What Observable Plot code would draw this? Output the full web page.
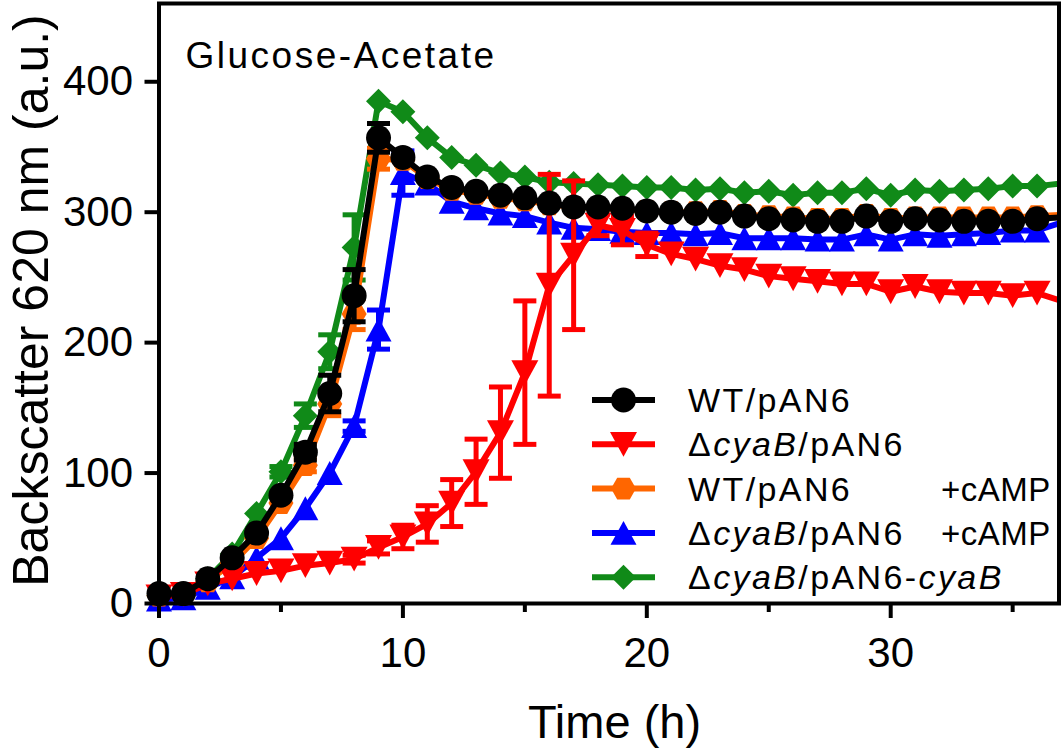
<!DOCTYPE html>
<html>
<head>
<meta charset="utf-8">
<script src="https://cdn.jsdelivr.net/npm/d3@7"></script>
<script src="https://cdn.jsdelivr.net/npm/@observablehq/plot@0.6"></script>
<style>
  body { margin: 0; background: #ffffff; }
</style>
</head>
<body>
<div id="chart"></div>
<script>
// ---- data ----
const times = [0,1,2,3,4,5,6,7,8,9,10,11,12,13,14,15,16,17,18,19,20,21,22,23,24,25,26,27,28,29,30,31,32,33,34,35,36,37];

const wtValues      = [7.6,7.6,19,35,54,83,116,161,236,357,342,327,319,316,313,311,307,304,304,303,301,300,299,300,297,295,294,293,293,297,293,295,294,293,293,293,295,296];
const wtErr         = [0,0,0,0,0,0,6,14,20,11,0,0,0,0,0,0,0,0,0,0,0,0,0,0,0,0,0,0,0,0,0,0,0,0,0,0,0,0];

const cyaBValues    = [5,7,15,19,23,25,29,31,34,43,51,61,77,101,131,177,244,267,290,286,275,268,264,259,256,251,249,247,245,245,239,243,239,238,238,236,238,232];
const cyaBErr       = [0,0,0,0,0,0,0,0,3,5,9,14,18,25,35,55,85,57,8,11,9,0,0,0,0,0,0,0,0,0,0,0,0,0,0,0,0,0];

const wtCampValues  = [6,7,17,31,50,77,106,153,222,341,340,326,317,314,311,309,306,304,303,302,301,300,300,301,298,297,296,295,295,298,295,296,296,296,296,296,297,298];
const wtCampErr     = [0,0,0,0,0,0,5,9,12,8,0,0,0,0,0,0,0,0,0,0,0,0,0,0,0,0,0,0,0,0,0,0,0,0,0,0,0,0];

const cyaBCampValues = [3,4,12,20,35,50,73,100,136,210,330,322,308,303,299,297,292,288,287,285,284,284,283,284,280,280,280,279,279,283,279,283,282,283,284,286,286,292];
const cyaBCampErr    = [0,0,0,0,0,0,0,0,4,15,17,0,0,0,0,0,0,0,0,0,0,0,0,0,0,0,0,0,0,0,0,0,0,0,0,0,0,0];

const complValues   = [6,7,19,38,69,101,144,193,273,385,377,357,342,336,330,327,323,322,321,320,319,319,317,318,315,316,313,315,315,318,313,317,316,317,318,320,320,322];
const complErr      = [0,0,0,0,0,4,9,13,25,0,0,0,0,0,0,0,0,0,0,0,0,0,0,0,0,0,0,0,0,0,0,0,0,0,0,0,0,0];

const legendLabels = ["WT/pAN6", "\u0394cyaB/pAN6", "WT/pAN6", "\u0394cyaB/pAN6", "\u0394cyaB/pAN6-cyaB"];
const legendSuffix = ["", "", "+cAMP", "+cAMP", ""];
const seriesColors = ["#000000", "#ff0000", "#ff6600", "#0000ff", "#108a18"];

const xTicksMajor = [0, 10, 20, 30];
const xTicksMinor = [5, 15, 25, 35];
const yTicks = [0, 100, 200, 300, 400];
const xDomain = [0, 36.9];
const yDomain = [0, 460];

const panelTitle = "Glucose-Acetate";
const xLabel = "Time (h)";
const yLabel = "Backscatter 620 nm (a.u.)";

// ---- symbols ----
const rad = (size) => Math.sqrt(size / Math.PI);
const symCircle = {draw(ctx, size) { const r = rad(size); ctx.moveTo(r, 0); ctx.arc(0, 0, r, 0, 2 * Math.PI); ctx.closePath(); }};
const symTriDown = {draw(ctx, size) { const r = rad(size), h = r * 0.92; ctx.moveTo(-r, -h); ctx.lineTo(r, -h); ctx.lineTo(0, h); ctx.closePath(); }};
const symTriUp = {draw(ctx, size) { const r = rad(size), h = r * 0.92; ctx.moveTo(-r, h); ctx.lineTo(r, h); ctx.lineTo(0, -h); ctx.closePath(); }};
const symHex = {draw(ctx, size) { const r = rad(size); for (let k = 0; k < 6; ++k) { const a = k * Math.PI / 3; const px = r * Math.cos(a), py = r * Math.sin(a); if (k === 0) ctx.moveTo(px, py); else ctx.lineTo(px, py); } ctx.closePath(); }};
const symDiamond = {draw(ctx, size) { const r = rad(size); ctx.moveTo(0, -r); ctx.lineTo(r, 0); ctx.lineTo(0, r); ctx.lineTo(-r, 0); ctx.closePath(); }};
const symCap = {draw(ctx, size) { const r = rad(size); ctx.moveTo(-r, 0); ctx.lineTo(r, 0); }};

const series = [
  {values: wtValues, err: wtErr, symbol: symCircle, r: 12.5},
  {values: cyaBValues, err: cyaBErr, symbol: symTriDown, r: 13.5},
  {values: wtCampValues, err: wtCampErr, symbol: symHex, r: 12.5},
  {values: cyaBCampValues, err: cyaBCampErr, symbol: symTriUp, r: 13},
  {values: complValues, err: complErr, symbol: symDiamond, r: 12.5}
].map((s, i) => ({...s, color: seriesColors[i], label: legendLabels[i], suffix: legendSuffix[i],
  rows: times.map((t, j) => ({t, v: s.values[j], e: s.err[j]}))}));

const FONT = "'Liberation Sans', Arial, Helvetica, sans-serif";

// draw order: last legend entry at the bottom, first on top
const dataMarks = [];
[...series].reverse().forEach(s => {
  const errRows = s.rows.filter(d => d.e > 0);
  dataMarks.push(
    Plot.ruleX(errRows, {x: "t", y1: d => d.v - d.e, y2: d => d.v + d.e, stroke: s.color, strokeWidth: 5}),
    Plot.dot(errRows, {x: "t", y: d => d.v + d.e, symbol: symCap, r: 11.5, fill: "none", stroke: s.color, strokeWidth: 5}),
    Plot.dot(errRows, {x: "t", y: d => d.v - d.e, symbol: symCap, r: 11.5, fill: "none", stroke: s.color, strokeWidth: 5}),
    Plot.line(s.rows, {x: "t", y: "v", stroke: s.color, strokeWidth: 6, clip: true}),
    Plot.dot(s.rows.filter(d => d.t <= xDomain[1]), {x: "t", y: "v", symbol: s.symbol, r: s.r, fill: s.color, stroke: "none"})
  );
});

const chart = Plot.plot({
  width: 1064,
  height: 751,
  marginLeft: 158.5,
  marginRight: 5.5,
  marginTop: 3,
  marginBottom: 148,
  style: {fontFamily: FONT, background: "#ffffff", color: "#000000"},
  x: {domain: xDomain, label: null},
  y: {domain: yDomain, label: null},
  marks: [
    ...dataMarks,
    Plot.frame({stroke: "#000000", strokeWidth: 4}),
    Plot.axisY({ticks: yTicks, tickSize: 14, tickPadding: 12, fontSize: 42, strokeWidth: 4, label: null}),
    Plot.axisX({ticks: xTicksMajor, tickSize: 15, tickPadding: 19, fontSize: 42, strokeWidth: 4, label: null}),
    Plot.axisX({ticks: xTicksMinor, tickSize: 9, tickFormat: () => "", strokeWidth: 4, label: null}),
    Plot.text([panelTitle], {text: d => d, frameAnchor: "top-left", dx: 26.5, dy: 64, lineAnchor: "bottom", textAnchor: "start", fontSize: 37}),
    Plot.text([xLabel], {text: d => d, frameAnchor: "bottom", dx: 5.5, dy: 134, lineAnchor: "bottom", textAnchor: "middle", fontSize: 47}),
    Plot.text([yLabel], {text: d => d, frameAnchor: "left", dx: -111.5, dy: -3, rotate: -90, lineAnchor: "bottom", textAnchor: "middle", fontSize: 50})
  ]
});

document.getElementById("chart").appendChild(chart);

const svg = d3.select(chart);
// spacing of the panel title as in the reference
svg.selectAll("text").filter(function() { return this.textContent === panelTitle; })
  .style("letter-spacing", "2.5px");

// ---- legend (inside the plot, lower right) ----
const lg = svg.append("g").attr("font-family", FONT).attr("font-size", 34)
  .attr("fill", "#000000").attr("text-anchor", "start");
series.forEach((s, i) => {
  const y = 400 + i * 44.3;
  lg.append("line").attr("x1", 592).attr("x2", 655).attr("y1", y).attr("y2", y)
    .attr("stroke", s.color).attr("stroke-width", 6);
  const p = d3.path();
  s.symbol.draw(p, Math.PI * s.r * s.r);
  lg.append("path").attr("d", p.toString()).attr("transform", `translate(623.5,${y})`).attr("fill", s.color);
  const t = lg.append("text").attr("x", 688).attr("y", y + 12).attr("text-anchor", "start").style("letter-spacing", "2.4px");
  s.label.split(/(cyaB)/).filter(Boolean).forEach(part => {
    t.append("tspan").text(part).attr("font-style", part === "cyaB" ? "italic" : null);
  });
  if (s.suffix) {
    lg.append("text").attr("x", 941).attr("y", y + 12).attr("text-anchor", "start")
      .attr("font-size", 33).style("letter-spacing", "0.5px").text(s.suffix);
  }
});
</script>
</body>
</html>
